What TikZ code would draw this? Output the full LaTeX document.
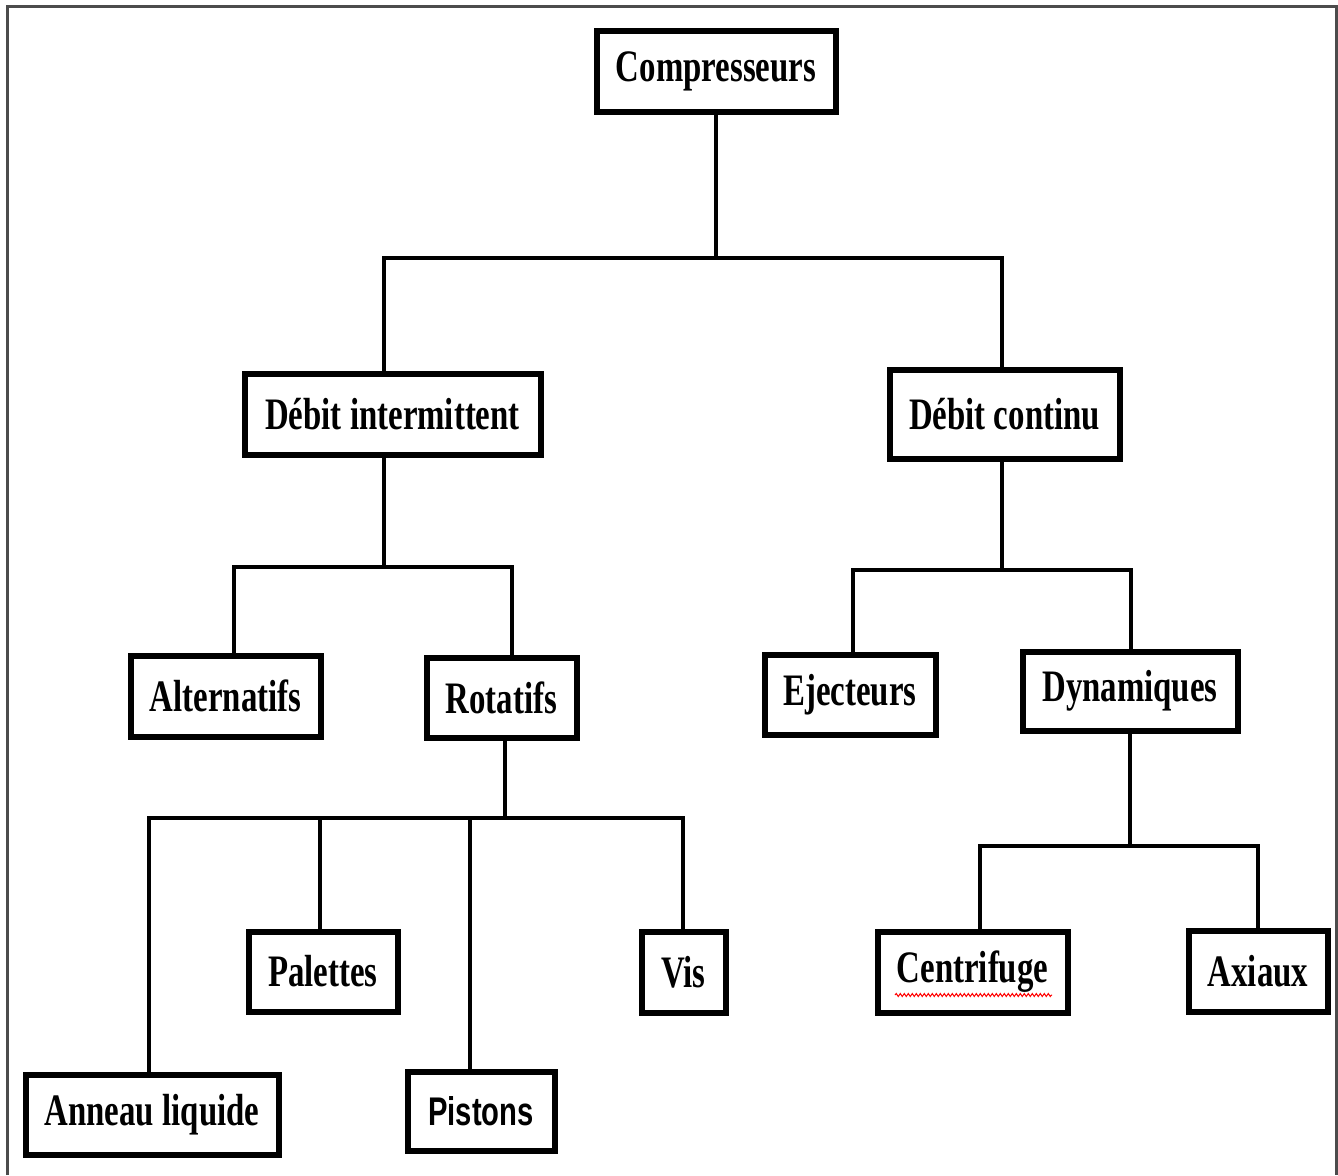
\documentclass[tikz,border=0pt]{standalone}
\usepackage{fontspec}
\newfontfamily\boxserif{Liberation Serif}[FakeStretch=0.73]
\newfontfamily\boxsans{Liberation Sans}[FakeStretch=0.73]
\usetikzlibrary{decorations.pathmorphing}
\begin{document}
\begin{tikzpicture}[x=1pt, y=-1pt, line join=miter,
		box/.style={draw, line width=6pt, inner sep=0pt, font=\boxserif\bfseries\fontsize{45}{50}\selectfont},
		link/.style={line width=4.5pt}]
	\useasboundingbox (0,0) rectangle (1338,1175);
	\draw[black!70, line width=3pt] (7,1175) -- (7,6) -- (1336,6) -- (1336,1175);
	\foreach \n/\x/\y/\w/\h/\t in {comp/716/71/239/81/Compresseurs, debint/392.5/414/296/81/Débit intermittent,
		debcont/1004.5/414/230/89/Débit continu, alt/225.5/696/190/81/Alternatifs, rot/501.5/697.5/150/80/Rotatifs,
		ejec/850/694.5/171/80/Ejecteurs, dyn/1130/691/215/79/Dynamiques, pal/323/971.5/149/80/Palettes,
		vis/683.5/972/84/81/Vis, centr/972.5/972/190/81/Centrifuge, axi/1258/971/139/81/Axiaux,
		ann/152/1114.5/253/80/Anneau liquide}{
		\node[box, minimum width=\w pt, minimum height=\h pt] (\n) at (\x,\y) {\t};
	}
	\node[box, font=\boxsans\bfseries\fontsize{40}{46}\selectfont, minimum width=147pt, minimum height=79pt] (pist) at (481,1111) {Pistons};
	\coordinate (j1) at (384,258); \coordinate (j2) at (1002,258);
	\coordinate (j3) at (234,567); \coordinate (j4) at (512,567);
	\coordinate (j5) at (853,570); \coordinate (j6) at (1131,570);
	\coordinate (j7) at (149,818); \coordinate (j8) at (683,818);
	\coordinate (j9) at (320,818); \coordinate (j10) at (470,818); \coordinate (j11) at (505,818);
	\coordinate (j12) at (980,846); \coordinate (j13) at (1258,846);
	\draw[link] (comp) -- (comp |- j1);
	\draw[link] (j1 |- debint.north) -- (j1) -- (j2) -- (j2 |- debcont.north);
	\draw[link] (j1 |- debint.south) -- (j1 |- j3);
	\draw[link] (j3 |- alt.north) -- (j3) -- (j4) -- (j4 |- rot.north);
	\draw[link] (j2 |- debcont.south) -- (j2 |- j5);
	\draw[link] (j5 |- ejec.north) -- (j5) -- (j6) -- (j6 |- dyn.north);
	\draw[link] (j11 |- rot.south) -- (j11);
	\draw[link] (j7 |- ann.north) -- (j7) -- (j8) -- (j8 |- vis.north);
	\draw[link] (j9) -- (j9 |- pal.north);
	\draw[link] (j10) -- (j10 |- pist.north);
	\draw[link] (dyn) -- (dyn |- j12);
	\draw[link] (j12 |- centr.north) -- (j12) -- (j13) -- (j13 |- axi.north);
	\draw[red, line width=1pt, decorate, decoration={snake, amplitude=1.5pt, segment length=4pt}] (895,995) -- (1052,995);
\end{tikzpicture}
\end{document}
